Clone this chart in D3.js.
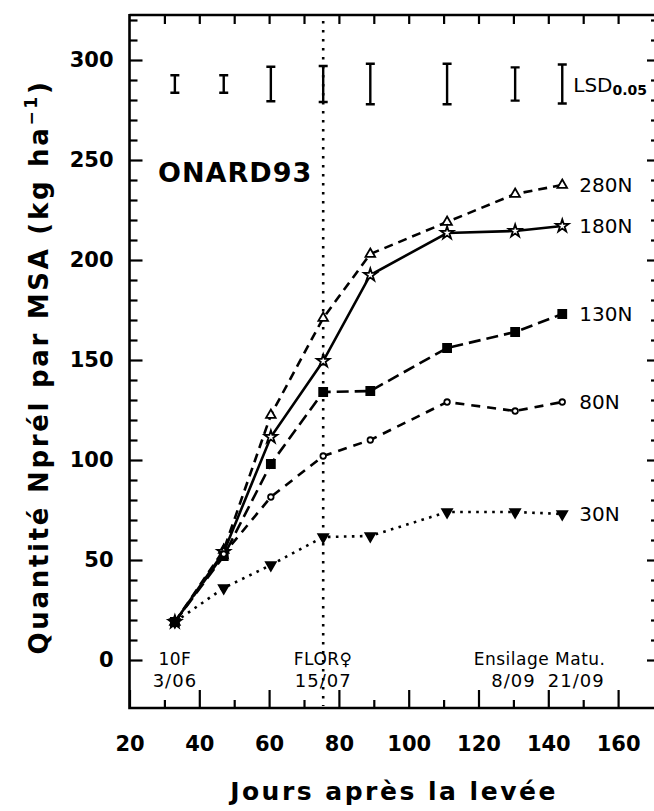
<!DOCTYPE html>
<html>
<head>
<meta charset="utf-8">
<script src="https://cdn.jsdelivr.net/npm/d3@7"></script>
<style>
  html, body { margin: 0; padding: 0; background: #fff; }
  svg { display: block; }
  text { font-family: "DejaVu Sans", sans-serif; fill: #000; }
</style>
</head>
<body>
<svg id="chart" width="654" height="811"></svg>
<script>
// ---- data ----
const days = [33, 47, 60.5, 75.5, 89, 111, 130.5, 144];
const n280 = [19, 55, 122.5, 171, 203, 219, 233, 237.5];
const n180 = [19, 54, 111.5, 149.5, 192.5, 213.5, 214.5, 217];
const n130 = [19, 52, 98, 134, 134.5, 156, 164, 173];
const n80  = [19, 53, 81.5, 102, 110, 129, 124.5, 129];
const n30  = [19, 36, 47.5, 61.5, 62, 74, 74, 73];
const seriesNames = ["280N", "180N", "130N", "80N", "30N"];
const lsd = [8.7, 8.7, 17.3, 18, 20.2, 20.2, 16.6, 19.5];
const lsdCenter = 288;
const xTicks = [20, 40, 60, 80, 100, 120, 140, 160];
const yTicks = [0, 50, 100, 150, 200, 250, 300];
const floweringDay = 75.5;
const stageTop = [{d: 33, t: "10F"}, {d: 75.5, t: "FLOR\u2640"}, {d: 137.5, t: "Ensilage Matu."}];
const stageBottom = [{d: 33, t: "3/06"}, {d: 75.5, t: "15/07"}, {d: 130, t: "8/09"}, {d: 148, t: "21/09"}];

// ---- scales ----
const svg = d3.select("#chart");
const x = d3.scaleLinear().domain([20, 170]).range([129.5, 653]);
const y = d3.scaleLinear().domain([-24, 322.5]).range([708, 15]);
const X0 = x.range()[0], Y0 = y.range()[0], Y1 = y.range()[1];
const XR = 656; // right frame, just beyond the picture edge

// ---- axes ----
svg.append("g").attr("transform", `translate(0,${Y0})`)
  .call(d3.axisBottom(x).tickValues(xTicks).tickSizeInner(-18).tickSizeOuter(0).tickPadding(28));
svg.append("g").attr("transform", `translate(0,${Y0})`)
  .call(d3.axisBottom(x).tickValues(d3.range(30, 170, 20)).tickSizeInner(-8).tickSizeOuter(0).tickFormat(""));
svg.append("g").attr("transform", `translate(0,${Y1})`)
  .call(d3.axisTop(x).tickValues(d3.range(30, 170, 10)).tickSizeInner(-9).tickSizeOuter(0).tickFormat(""));
svg.append("g").attr("transform", `translate(${X0},0)`)
  .call(d3.axisLeft(y).tickValues(yTicks).tickSizeInner(-13).tickSizeOuter(0).tickPadding(16));
svg.append("g").attr("transform", `translate(${X0},0)`)
  .call(d3.axisLeft(y).tickValues(d3.range(10, 330, 10).filter(v => v % 50 !== 0)).tickSizeInner(-8).tickSizeOuter(0).tickFormat(""));
svg.append("g").attr("transform", `translate(${XR},0)`)
  .call(d3.axisRight(y).tickValues(yTicks).tickSizeInner(-9).tickSizeOuter(0).tickFormat(""));
svg.append("g").attr("transform", `translate(${XR - 2},0)`)
  .call(d3.axisRight(y).tickValues(d3.range(10, 330, 10).filter(v => v % 50 !== 0)).tickSizeInner(-3).tickSizeOuter(0).tickFormat(""));

svg.selectAll(".domain").remove();
svg.selectAll(".tick line").attr("stroke", "#000").attr("stroke-width", 2.2);
svg.selectAll(".tick text").attr("font-family", "DejaVu Sans").attr("font-weight", "bold")
  .attr("font-size", 21).attr("fill", "#000");

// frame
svg.append("path")
  .attr("d", `M${X0},${Y1}H${XR}M${X0},${Y1 - 1}V${Y0}H${XR}`)
  .attr("fill", "none").attr("stroke", "#000").attr("stroke-width", 2.6);

// vertical flowering line
svg.append("line")
  .attr("x1", x(floweringDay)).attr("x2", x(floweringDay))
  .attr("y1", Y1 + 6).attr("y2", Y0 - 2)
  .attr("stroke", "#000").attr("stroke-width", 2.6)
  .attr("stroke-dasharray", "2.6,6.4");

// LSD bars
const lsdG = svg.append("g");
days.forEach((d, i) => {
  const cx = x(d), t = y(lsdCenter + lsd[i] / 2), b = y(lsdCenter - lsd[i] / 2);
  lsdG.append("path")
    .attr("d", `M${cx - 4.5},${t}H${cx + 4.5}M${cx},${t}V${b}M${cx - 4.5},${b}H${cx + 4.5}`)
    .attr("fill", "none").attr("stroke", "#000").attr("stroke-width", 2.4);
});
const lsdText = svg.append("text").attr("x", x(days[days.length - 1]) + 11).attr("y", y(lsdCenter) + 8)
  .attr("font-size", 20);
lsdText.append("tspan").text("LSD");
lsdText.append("tspan").attr("font-size", 14).attr("font-weight", "bold").attr("dy", 3).text("0.05");

// series
const series = [
  {name: seriesNames[0], v: n280, dash: "9,6", sym: "tri", fill: "#fff"},
  {name: seriesNames[1], v: n180, dash: null, sym: "star", fill: "#fff"},
  {name: seriesNames[2], v: n130, dash: "12,6", sym: "square", fill: "#000"},
  {name: seriesNames[3], v: n80, dash: "9,7", sym: "circle", fill: "#fff"},
  {name: seriesNames[4], v: n30, dash: "2.6,5.4", sym: "tridown", fill: "#000"}
];
const line = d3.line().x(d => x(d[0])).y(d => y(d[1]));
const symMap = {
  tri: d3.symbol().type(d3.symbolTriangle).size(40),
  star: d3.symbol().type(d3.symbolStar).size(50),
  square: d3.symbol().type(d3.symbolSquare).size(64),
  circle: d3.symbol().type(d3.symbolCircle).size(24),
  tridown: d3.symbol().type(d3.symbolTriangle).size(42)
};
series.forEach(s => {
  const pts = days.map((d, i) => [d, s.v[i]]);
  svg.append("path").datum(pts).attr("d", line)
    .attr("fill", "none").attr("stroke", "#000").attr("stroke-width", 2.6)
    .attr("stroke-dasharray", s.dash);
  svg.append("g").selectAll("path").data(pts).join("path")
    .attr("d", symMap[s.sym])
    .attr("transform", p => `translate(${x(p[0])},${y(p[1])})${s.sym === "tridown" ? " rotate(180)" : ""}`)
    .attr("fill", s.fill).attr("stroke", "#000").attr("stroke-width", 1.8);
  const last = pts[pts.length - 1];
  svg.append("text").attr("x", x(last[0]) + 17).attr("y", y(last[1]))
    .attr("dy", "0.36em").attr("font-size", 20).text(s.name);
});

// site label
svg.append("text").attr("x", 158).attr("y", 182).attr("font-size", 27).attr("font-weight", "bold")
  .attr("letter-spacing", 1).text("ONARD93");

// stage annotations
svg.append("g").selectAll("text").data(stageTop).join("text")
  .attr("x", d => x(d.d)).attr("y", 665).attr("text-anchor", "middle")
  .attr("font-size", 17).attr("letter-spacing", 0.5).text(d => d.t);
svg.append("g").selectAll("text").data(stageBottom).join("text")
  .attr("x", d => x(d.d)).attr("y", 687).attr("text-anchor", "middle")
  .attr("font-size", 18).attr("letter-spacing", 1).text(d => d.t);

// axis titles
svg.append("text").attr("x", 394).attr("y", 800).attr("text-anchor", "middle")
  .attr("font-size", 25).attr("font-weight", "bold").attr("letter-spacing", 2.5)
  .text("Jours après la levée");
const yt = svg.append("text").attr("transform", "translate(48,367) rotate(-90)")
  .attr("text-anchor", "middle").attr("font-size", 26).attr("font-weight", "bold")
  .attr("letter-spacing", 2.7);
yt.append("tspan").text("Quantité Nprél par MSA (kg ha");
yt.append("tspan").attr("font-size", 17).attr("dy", -11).text("−1");
yt.append("tspan").attr("dy", 11).text(")");
</script>
</body>
</html>
